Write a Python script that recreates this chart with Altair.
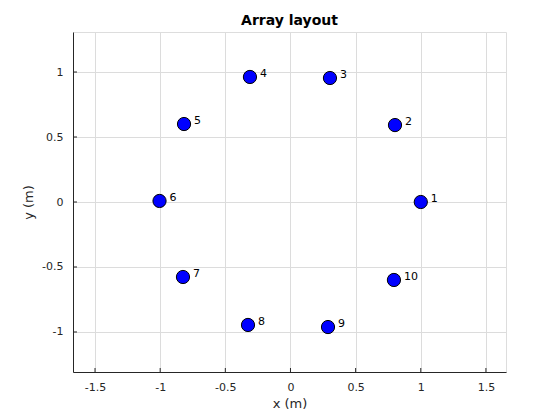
import altair as alt
import pandas as pd

ids = [1, 2, 3, 4, 5, 6, 7, 8, 9, 10]
xs = [1.0, 0.802, 0.303, -0.311, -0.817, -1.005, -0.825, -0.326, 0.288, 0.794]
ys = [0.0, 0.592, 0.954, 0.962, 0.600, 0.008, -0.577, -0.946, -0.962, -0.600]
x_ticks = [-1.5, -1, -0.5, 0, 0.5, 1, 1.5]
y_ticks = [-1, -0.5, 0, 0.5, 1]

df = pd.DataFrame({"id": [str(i) for i in ids], "x": xs, "y": ys})
xt = pd.DataFrame({"x": x_ticks})
yt = pd.DataFrame({"y": y_ticks})

FONT = "DejaVu Sans"
TXT = "#262626"
W, H = 433, 340

xscale = alt.Scale(domain=[-1.669, 1.654], nice=False, zero=False)
yscale = alt.Scale(domain=[-1.308, 1.308], nice=False, zero=False)

xaxis = alt.Axis(values=x_ticks, title="x (m)", grid=True, gridColor="#dcdcdc",
                 ticks=False, domainColor=TXT, labelColor=TXT, labelFont=FONT,
                 labelFontSize=11, labelPadding=9, titleFont=FONT, titleFontSize=13,
                 titleFontWeight="normal", titleColor=TXT, titlePadding=5,
                 labelExpr="'' + datum.value")
yaxis = alt.Axis(values=y_ticks, title="y (m)", grid=True, gridColor="#dcdcdc",
                 ticks=False, domainColor=TXT, labelColor=TXT, labelFont=FONT,
                 labelFontSize=11, labelPadding=10, titleFont=FONT, titleFontSize=13,
                 titleFontWeight="normal", titleColor=TXT, titlePadding=6,
                 labelExpr="'' + datum.value")

base = alt.Chart(df).encode(
    x=alt.X("x:Q", scale=xscale, axis=xaxis),
    y=alt.Y("y:Q", scale=yscale, axis=yaxis),
)

xtick_marks = alt.Chart(xt).mark_rule(color=TXT, strokeWidth=1).encode(
    x=alt.X("x:Q", scale=xscale, axis=xaxis), y=alt.value(H), y2=alt.value(H - 4))
ytick_marks = alt.Chart(yt).mark_rule(color=TXT, strokeWidth=1).encode(
    y=alt.Y("y:Q", scale=yscale, axis=yaxis), x=alt.value(0), x2=alt.value(4))

pts = base.mark_point(filled=True, shape="circle", size=175, color="#0000ff",
                      stroke="black", strokeWidth=1, opacity=1)
labels = base.mark_text(align="left", baseline="middle", dx=10, dy=-3,
                        font=FONT, fontSize=11, color="black").encode(text="id:N")

chart = (pts + xtick_marks + ytick_marks + labels).properties(
    width=W, height=H,
    title=alt.TitleParams("Array layout", font=FONT, fontSize=14, fontWeight="bold",
                          color="black", offset=4, anchor="middle"),
    autosize=alt.AutoSizeParams(type="none"),
    padding={"left": 65, "top": 24, "right": 30, "bottom": 40},
).configure_view(stroke=None).configure(background="white")

chart.save("out.html", embed_options={"renderer": "svg", "actions": False})
